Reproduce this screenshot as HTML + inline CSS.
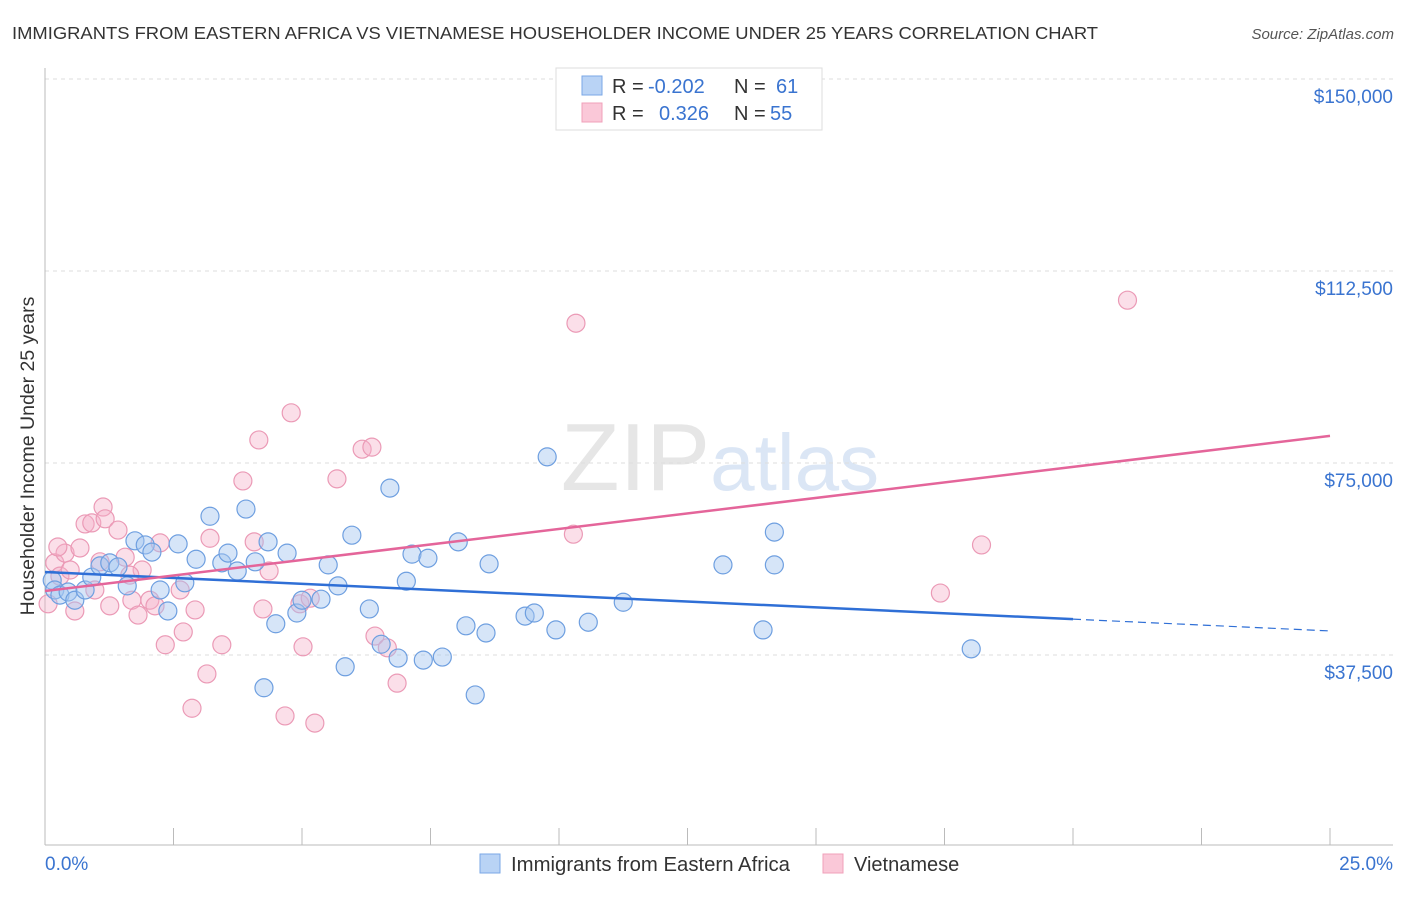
<!DOCTYPE html>
<html><head><meta charset="utf-8"><style>
body{margin:0;background:#fff;font-family:"Liberation Sans",sans-serif}
svg text{font-family:"Liberation Sans",sans-serif}
</style></head><body>
<svg id="chart" width="1406" height="892" viewBox="0 0 1406 892">
<text x="12" y="39" font-size="17.5" fill="#333" textLength="1086" lengthAdjust="spacingAndGlyphs">IMMIGRANTS FROM EASTERN AFRICA VS VIETNAMESE HOUSEHOLDER INCOME UNDER 25 YEARS CORRELATION CHART</text>
<text x="1394" y="39" font-size="15" fill="#555" font-style="italic" text-anchor="end">Source: ZipAtlas.com</text>
<text x="720" y="490" font-size="96" fill="#e6e6e6" text-anchor="middle" font-family="Liberation Serif">ZIP<tspan fill="#dbe6f5" font-family="Liberation Sans" font-size="80">atlas</tspan></text>
<g id="grid"></g><g id="axes"></g><g id="pts"></g><g id="lines"></g>
<text transform="translate(34,456) rotate(-90)" font-size="19.5" fill="#333" text-anchor="middle">Householder Income Under 25 years</text>
<g>
<rect x="556" y="68" width="266" height="62" fill="#fff" stroke="#ddd"/>
<rect x="582" y="76" width="20" height="19" fill="#b9d3f5" stroke="#7aa7e6"/>
<rect x="582" y="103" width="20" height="19" fill="#fac8d8" stroke="#f0a0ba"/>
<text y="93" font-size="20" fill="#333"><tspan x="612">R =</tspan><tspan x="648" fill="#3a74d0">-0.202</tspan><tspan x="734">N =</tspan><tspan x="776" fill="#3a74d0">61</tspan></text>
<text y="120" font-size="20" fill="#333"><tspan x="612">R =</tspan><tspan x="659" fill="#3a74d0">0.326</tspan><tspan x="734">N =</tspan><tspan x="770" fill="#3a74d0">55</tspan></text>
</g>
<g>
<rect x="480" y="854" width="20" height="19" fill="#b9d3f5" stroke="#7aa7e6"/>
<text x="511" y="871" font-size="20" fill="#333" textLength="279" lengthAdjust="spacingAndGlyphs">Immigrants from Eastern Africa</text>
<rect x="823" y="854" width="20" height="19" fill="#fac8d8" stroke="#f0a0ba"/>
<text x="854" y="871" font-size="20" fill="#333">Vietnamese</text>
</g>
</svg>
<script>
const yTicks=[37500,75000,112500,150000];
const yTickLabels=["$37,500","$75,000","$112,500","$150,000"];
const xTicks=[0,2.5,5,7.5,10,12.5,15,17.5,20,22.5,25];
const blueX=[0.14,0.19,0.29,0.45,0.58,0.78,0.91,1.07,1.26,1.42,1.60,1.75,1.95,2.08,2.24,2.39,2.59,2.72,2.94,3.21,3.44,3.56,3.74,3.91,4.09,4.26,4.34,4.49,4.71,4.90,5.00,5.37,5.51,5.70,5.84,5.97,6.31,6.54,6.71,6.87,7.03,7.14,7.36,7.45,7.73,8.04,8.19,8.37,8.58,8.64,9.34,9.52,9.77,9.94,10.57,11.25,13.19,13.97,14.19,14.19,18.02];
const blueY=[52.1,50.2,49.2,49.8,48.2,50.2,52.7,54.9,55.5,54.7,51.0,59.8,59.0,57.6,50.2,46.1,59.2,51.6,56.2,64.6,55.5,57.4,53.9,66.0,55.7,31.1,59.6,43.6,57.4,45.7,48.2,48.4,55.1,51.0,35.2,60.9,46.5,39.6,70.1,36.9,51.9,57.2,36.5,56.4,37.1,59.6,43.2,29.7,41.8,55.3,45.1,45.7,76.2,42.4,43.9,47.8,55.1,42.4,61.5,55.1,38.7];
const pinkX=[0.06,0.19,0.29,0.39,0.49,0.58,0.68,0.78,0.91,1.07,1.13,1.17,1.26,1.42,1.56,1.69,1.81,1.89,2.04,2.14,2.24,2.34,2.63,2.69,2.92,3.15,2.86,3.21,3.44,3.85,4.07,4.16,4.24,4.36,4.67,4.79,4.96,5.02,5.16,5.25,5.68,6.17,6.36,6.42,6.66,6.85,10.33,10.28,17.42,18.22,21.06,0.25,0.97,1.65];
const pinkY=[47.5,55.5,52.9,57.4,54.1,46.1,58.4,63.1,63.3,55.7,66.4,64.1,47.1,61.9,56.6,48.2,45.3,54.1,48.2,47.1,59.4,39.5,50.2,42.0,46.3,33.8,27.1,60.3,39.5,71.5,59.6,79.5,46.5,53.9,25.6,84.8,47.5,39.1,48.6,24.2,71.9,77.7,78.1,41.2,38.9,32.0,102.3,61.1,49.6,59.0,106.8,58.6,50.2,53.1];
const blueTrend=[53.7,44.5,42.2]; // at x=0,20,25
const pinkTrend=[50.0,80.3]; // at x=0,25
const NS="http://www.w3.org/2000/svg";
const X=v=>45+v/25*1285;
const Y=v=>847-v/37.5*192; // v in $k
function mk(tag,attrs,parent){const e=document.createElementNS(NS,tag);for(const k in attrs)e.setAttribute(k,attrs[k]);document.getElementById(parent).appendChild(e);return e;}
yTicks.forEach((t,i)=>{
 const y=Y(t/1000);
 const g=mk('line',{x1:45,x2:1393,y1:y,y2:y,stroke:'#ddd','stroke-dasharray':'4,4'},'grid');
 
 
 const tx=mk('text',{x:1393,y:y+24,'font-size':19,fill:'#3a74d0','text-anchor':'end'},'axes');
 tx.textContent=yTickLabels[i];
 
 
});
let a=mk('line',{x1:45,x2:45,y1:68,y2:845,stroke:'#bbb'},'axes');


a=mk('line',{x1:45,x2:1393,y1:845,y2:845,stroke:'#bbb'},'axes');


xTicks.forEach(t=>{const l=mk('line',{x1:X(t),x2:X(t),y1:828,y2:845,stroke:'#bbb'},'axes');
 
 });
let t0=mk('text',{x:45,y:870,'font-size':19,fill:'#3a74d0'},'axes');t0.textContent=xTicks[0].toFixed(1)+'%';


let t1=mk('text',{x:1393,y:870,'font-size':19,fill:'#3a74d0','text-anchor':'end'},'axes');t1.textContent=xTicks[xTicks.length-1].toFixed(1)+'%';


pinkX.forEach((x,i)=>{const c=mk('circle',{cx:X(x),cy:Y(pinkY[i]),r:9,fill:'rgba(245,175,200,0.4)',stroke:'#eb9ab6','stroke-width':1.2},'pts');
 
 });
blueX.forEach((x,i)=>{const c=mk('circle',{cx:X(x),cy:Y(blueY[i]),r:9,fill:'rgba(165,198,240,0.45)',stroke:'#6e9fe0','stroke-width':1.2},'pts');
 
 });
let l=mk('line',{x1:X(0),y1:Y(blueTrend[0]),x2:X(20),y2:Y(blueTrend[1]),stroke:'#2f6fd6','stroke-width':2.5},'lines');


l=mk('line',{x1:X(20),y1:Y(blueTrend[1]),x2:X(25),y2:Y(blueTrend[2]),stroke:'#2f6fd6','stroke-width':1.2,'stroke-dasharray':'8,5'},'lines');


l=mk('line',{x1:X(0),y1:Y(pinkTrend[0]),x2:X(25),y2:Y(pinkTrend[1]),stroke:'#e4659a','stroke-width':2.5},'lines');


</script>
</body></html>
